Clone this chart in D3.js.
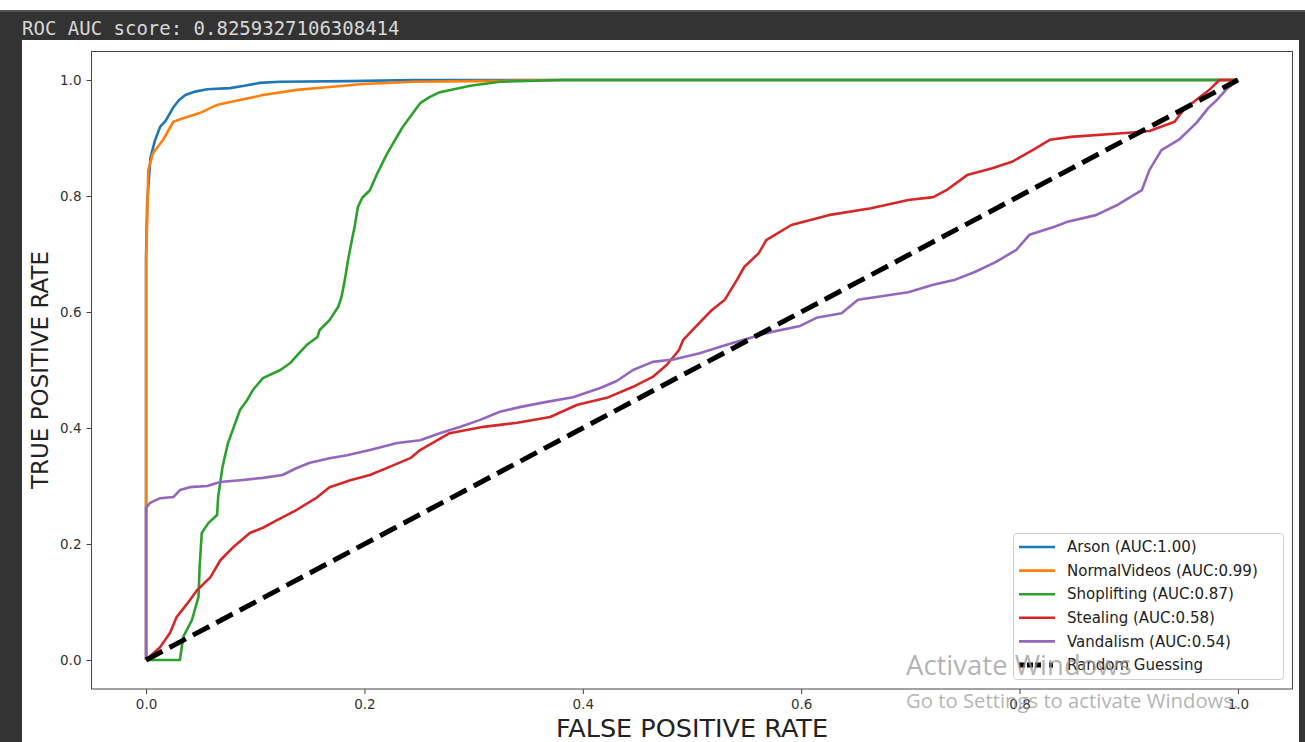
<!DOCTYPE html>
<html>
<head>
<meta charset="utf-8">
<script src="https://cdn.jsdelivr.net/npm/d3@7"></script>
<style>
  body { margin: 0; background: #333333; }
  svg { display: block; }
</style>
</head>
<body>
<div id="chart"></div>
<script>
// ROC curve points, [fpr, tpr]
const arson = [[0,0],[0,0.70],[0.001,0.788],[0.004,0.866],[0.008,0.895],[0.0128,0.919],[0.018,0.93],[0.025,0.953],[0.03,0.965],[0.036,0.974],[0.045,0.98],[0.056,0.984],[0.077,0.986],[0.09,0.99],[0.104,0.995],[0.123,0.997],[0.187,0.998],[0.245,1.0],[1,1]];
const normalVideos = [[0,0],[0,0.69],[0.001,0.76],[0.002,0.845],[0.0064,0.874],[0.0156,0.897],[0.025,0.928],[0.034,0.934],[0.049,0.943],[0.065,0.957],[0.077,0.962],[0.107,0.974],[0.138,0.983],[0.168,0.988],[0.199,0.993],[0.245,0.997],[0.3,0.998],[0.38,1.0],[1,1]];
const shoplifting = [[0,0],[0.031,0],[0.034,0.04],[0.042,0.069],[0.048,0.109],[0.049,0.16],[0.051,0.219],[0.057,0.236],[0.065,0.25],[0.066,0.281],[0.07,0.333],[0.075,0.374],[0.086,0.431],[0.0925,0.448],[0.098,0.466],[0.107,0.486],[0.123,0.5],[0.132,0.512],[0.141,0.531],[0.147,0.543],[0.157,0.557],[0.159,0.569],[0.168,0.586],[0.176,0.609],[0.179,0.626],[0.182,0.655],[0.185,0.69],[0.189,0.729],[0.191,0.747],[0.194,0.781],[0.198,0.797],[0.205,0.81],[0.212,0.84],[0.221,0.874],[0.235,0.919],[0.251,0.96],[0.26,0.971],[0.269,0.979],[0.297,0.99],[0.324,0.997],[0.38,1.0],[1,1]];
const stealing = [[0,0],[0.0128,0.022],[0.022,0.047],[0.028,0.074],[0.038,0.098],[0.047,0.121],[0.059,0.143],[0.068,0.172],[0.08,0.195],[0.095,0.219],[0.107,0.228],[0.12,0.241],[0.138,0.259],[0.157,0.281],[0.168,0.298],[0.187,0.31],[0.205,0.319],[0.223,0.333],[0.242,0.348],[0.251,0.362],[0.278,0.391],[0.309,0.402],[0.34,0.409],[0.37,0.419],[0.395,0.44],[0.422,0.452],[0.446,0.471],[0.464,0.488],[0.477,0.509],[0.488,0.534],[0.492,0.552],[0.503,0.574],[0.518,0.603],[0.53,0.621],[0.541,0.655],[0.548,0.678],[0.561,0.701],[0.568,0.724],[0.591,0.75],[0.625,0.767],[0.664,0.779],[0.698,0.793],[0.721,0.798],[0.733,0.81],[0.752,0.836],[0.775,0.848],[0.793,0.859],[0.812,0.879],[0.828,0.897],[0.847,0.902],[0.9,0.909],[0.919,0.912],[0.942,0.928],[0.95,0.948],[0.962,0.966],[0.975,0.985],[0.983,1.0],[1,1]];
const vandalism = [[0,0],[0,0.262],[0.0037,0.271],[0.013,0.279],[0.025,0.281],[0.031,0.293],[0.04,0.298],[0.056,0.3],[0.068,0.307],[0.086,0.31],[0.107,0.314],[0.125,0.319],[0.138,0.331],[0.15,0.34],[0.168,0.348],[0.184,0.353],[0.205,0.362],[0.23,0.374],[0.251,0.379],[0.269,0.391],[0.288,0.402],[0.306,0.414],[0.324,0.428],[0.342,0.436],[0.367,0.445],[0.391,0.453],[0.416,0.469],[0.431,0.481],[0.446,0.5],[0.464,0.514],[0.483,0.518],[0.507,0.529],[0.526,0.54],[0.538,0.547],[0.569,0.564],[0.599,0.576],[0.614,0.59],[0.637,0.598],[0.652,0.621],[0.698,0.634],[0.721,0.647],[0.74,0.655],[0.759,0.669],[0.778,0.686],[0.797,0.707],[0.809,0.733],[0.832,0.747],[0.843,0.755],[0.87,0.767],[0.889,0.784],[0.912,0.81],[0.919,0.845],[0.93,0.879],[0.946,0.897],[0.962,0.926],[0.973,0.952],[0.981,0.966],[0.99,0.985],[1,1]];
const randomGuess = [[0,0],[1,1]];

const seriesNames = ['Arson', 'NormalVideos', 'Shoplifting', 'Stealing', 'Vandalism'];
const seriesAuc = ['1.00', '0.99', '0.87', '0.58', '0.54'];
const seriesData = [arson, normalVideos, shoplifting, stealing, vandalism];
const tickValues = [0.0, 0.2, 0.4, 0.6, 0.8, 1.0];
const scoreText = 'ROC AUC score: 0.8259327106308414';

const W = 1305, H = 742;
const color = d3.scaleOrdinal(seriesNames, ['#1f77b4', '#ff7f0e', '#2ca02c', '#d62728', '#9467bd']);

const svg = d3.select('#chart').append('svg')
    .attr('width', W)
    .attr('height', H);

// notebook chrome around the figure
svg.append('rect').attr('x', 0).attr('y', 0).attr('width', W).attr('height', 10).attr('fill', '#ffffff');
svg.append('rect').attr('x', 0).attr('y', 10).attr('width', W).attr('height', 2).attr('fill', '#555555');
svg.append('rect').attr('x', 22).attr('y', 40).attr('width', 1277).attr('height', H - 40).attr('fill', '#ffffff');
svg.append('text')
    .attr('x', 22).attr('y', 35)
    .attr('fill', '#d8d8d8')
    .style('font-family', '"DejaVu Sans Mono", "Liberation Mono", monospace')
    .style('font-size', '19px')
    .text(scoreText);

// plot area
const x = d3.scaleLinear().domain([-0.05, 1.05]).range([91.5, 1292.5]);
const y = d3.scaleLinear().domain([-0.05, 1.05]).range([689, 51]);

const tickFont = g => g.selectAll('text')
    .style('font-family', '"DejaVu Sans", sans-serif')
    .style('font-size', '13.5px')
    .attr('fill', '#333');

svg.append('g')
    .attr('transform', 'translate(0,689)')
    .call(d3.axisBottom(x).tickValues(tickValues).tickFormat(d3.format('.1f')).tickSize(5).tickPadding(5))
    .call(g => g.select('.domain').remove())
    .call(g => g.selectAll('line').attr('stroke', '#444'))
    .call(tickFont);

svg.append('g')
    .attr('transform', 'translate(91.5,0)')
    .call(d3.axisLeft(y).tickValues(tickValues).tickFormat(d3.format('.1f')).tickSize(5).tickPadding(5))
    .call(g => g.select('.domain').remove())
    .call(g => g.selectAll('line').attr('stroke', '#444'))
    .call(tickFont);

const line = d3.line()
    .x(d => x(d[0]))
    .y(d => y(d[1]));

svg.append('g')
    .attr('fill', 'none')
    .attr('stroke-width', 2.6)
    .attr('stroke-linejoin', 'round')
    .selectAll('path')
    .data(seriesData)
    .enter().append('path')
    .attr('d', line)
    .attr('stroke', (d, i) => color(seriesNames[i]));

svg.append('path')
    .datum(randomGuess)
    .attr('d', line)
    .attr('fill', 'none')
    .attr('stroke', '#000')
    .attr('stroke-width', 5)
    .attr('stroke-dasharray', '18.5,8');

// frame
svg.append('rect')
    .attr('x', 91.5).attr('y', 51.5)
    .attr('width', 1201).attr('height', 637.5)
    .attr('fill', 'none')
    .attr('stroke', '#444')
    .attr('stroke-width', 1);

// axis labels
svg.append('text')
    .attr('x', 692).attr('y', 737)
    .attr('text-anchor', 'middle')
    .style('font-family', '"DejaVu Sans", sans-serif')
    .style('font-size', '25.5px')
    .attr('fill', '#222')
    .text('FALSE POSITIVE RATE');

svg.append('text')
    .attr('transform', 'translate(48,370) rotate(-90)')
    .attr('text-anchor', 'middle')
    .style('font-family', '"DejaVu Sans", sans-serif')
    .style('font-size', '23px')
    .attr('fill', '#222')
    .text('TRUE POSITIVE RATE');

// legend
const legend = svg.append('g');
legend.append('rect')
    .attr('x', 1013.5).attr('y', 533.5)
    .attr('width', 270).attr('height', 146)
    .attr('rx', 3)
    .attr('fill', '#fff').attr('fill-opacity', 0.8)
    .attr('stroke', '#d0d0d0');

const legendItems = seriesNames.map((n, i) => ({ label: `${n} (AUC:${seriesAuc[i]})`, color: color(n), dashed: false }))
    .concat([{ label: 'Random Guessing', color: '#000', dashed: true }]);

const item = legend.selectAll('.item')
    .data(legendItems)
    .enter().append('g')
    .attr('transform', (d, i) => `translate(0,${547 + i * 23.6})`);

item.append('line')
    .attr('x1', 1019).attr('x2', 1055)
    .attr('stroke', d => d.color)
    .attr('stroke-width', d => d.dashed ? 5 : 2.6)
    .attr('stroke-dasharray', d => d.dashed ? '6,2,6,2,6,8,4,100' : null);

item.append('text')
    .attr('x', 1067).attr('dy', '0.35em')
    .style('font-family', '"DejaVu Sans", sans-serif')
    .style('font-size', '15px')
    .attr('fill', '#222')
    .text(d => d.label);

// windows watermark on top
svg.append('text')
    .attr('x', 906).attr('y', 675)
    .attr('fill', '#9a9a9a').attr('fill-opacity', 0.75)
    .style('font-family', '"Open Sans", "Noto Sans", sans-serif')
    .style('font-size', '27.5px')
    .text('Activate Windows');

svg.append('text')
    .attr('x', 906).attr('y', 708)
    .attr('fill', '#9a9a9a').attr('fill-opacity', 0.75)
    .style('font-family', '"Open Sans", "Noto Sans", sans-serif')
    .style('font-size', '20.3px')
    .text('Go to Settings to activate Windows.');
</script>
</body>
</html>
